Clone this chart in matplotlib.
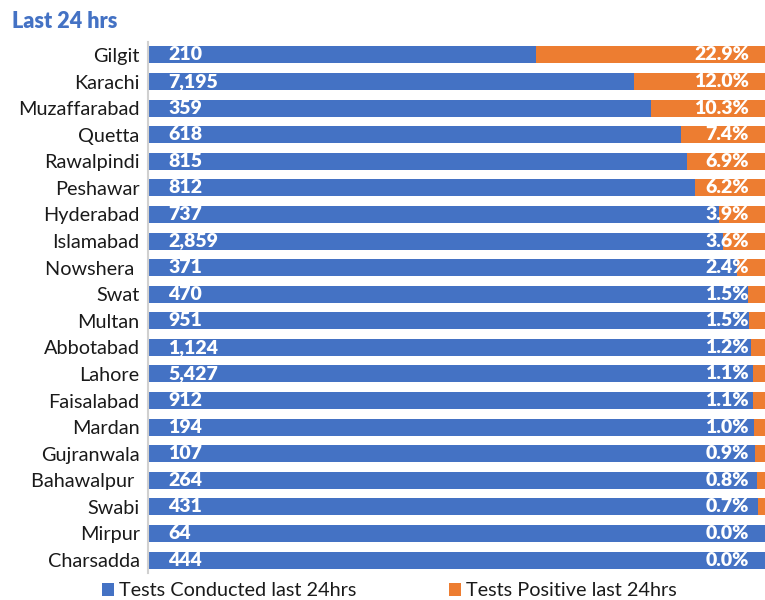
import matplotlib
matplotlib.use("Agg")
import matplotlib.pyplot as plt
from matplotlib.patches import Patch

plt.rcParams['font.family'] = ['Lato', 'DejaVu Sans']

cities = ["Gilgit", "Karachi", "Muzaffarabad", "Quetta", "Rawalpindi", "Peshawar",
          "Hyderabad", "Islamabad", "Nowshera ", "Swat", "Multan", "Abbotabad",
          "Lahore", "Faisalabad", "Mardan", "Gujranwala", "Bahawalpur ", "Swabi",
          "Mirpur", "Charsadda"]
tests_conducted = [210, 7195, 359, 618, 815, 812, 737, 2859, 371, 470, 951, 1124,
                   5427, 912, 194, 107, 264, 431, 64, 444]
positive_pct = [22.9, 12.0, 10.3, 7.4, 6.9, 6.2, 3.9, 3.6, 2.4, 1.5, 1.5, 1.2,
                1.1, 1.1, 1.0, 0.9, 0.8, 0.7, 0.0, 0.0]
# share of each bar drawn orange (% of bar length)
positive_share = [37.1, 21.2, 18.5, 13.6, 12.6, 11.3, 7.5, 6.8, 4.5, 2.8, 2.6, 2.3,
                  1.9, 1.9, 1.8, 1.6, 1.3, 1.1, 0.0, 0.0]
conducted_share = [100 - s for s in positive_share]
series_names = ["Tests Conducted last 24hrs", "Tests Positive last 24hrs"]

BLUE = "#4472C4"
ORANGE = "#ED7D31"

fig = plt.figure(figsize=(7.65, 6.0), dpi=100)
W, H = 765, 600
left_px, right_px = 148, 765
top_px, bot_px = 41.7, 573.3
ax = fig.add_axes([left_px / W, 1 - bot_px / H, (right_px - left_px) / W, (bot_px - top_px) / H])

y = list(range(len(cities)))
ax.barh(y, conducted_share, height=0.64, color=BLUE, label=series_names[0])
ax.barh(y, positive_share, left=conducted_share, height=0.64, color=ORANGE,
        label=series_names[1])

for i in y:
    ax.text(3.3, i, f"{tests_conducted[i]:,}", ha="left", va="center",
            color="white", fontsize=14, fontweight="heavy")
    ax.text(97.4, i, f"{positive_pct[i]:.1f}%", ha="right", va="center",
            color="white", fontsize=14, fontweight="heavy")

ax.set_xlim(0, 100)
ax.set_ylim(len(cities) - 0.5, -0.5)
ax.set_yticks(y)
ax.set_yticklabels(cities, fontsize=14.3, color="#1a1a1a")
ax.tick_params(axis="y", length=0, pad=6)
ax.set_xticks([])
for s in ["top", "right", "bottom"]:
    ax.spines[s].set_visible(False)
ax.spines["left"].set_color("#D0D0D0")
ax.spines["left"].set_linewidth(1.5)

fig.text(12 / W, 1 - 22 / H, "Last 24 hrs", ha="left", va="center",
         color=BLUE, fontsize=15.5, fontweight="heavy")

for name, col, xpx in [(series_names[0], BLUE, 102), (series_names[1], ORANGE, 449)]:
    fig.legend(handles=[Patch(facecolor=col, label=name)], loc="center left",
               bbox_to_anchor=(xpx / W, 1 - 591 / H), borderaxespad=0, borderpad=0,
               frameon=False, fontsize=14.3, handlelength=0.62, handleheight=0.62,
               handletextpad=0.25, labelcolor="#1a1a1a")

fig.savefig("out.png", dpi=100)
